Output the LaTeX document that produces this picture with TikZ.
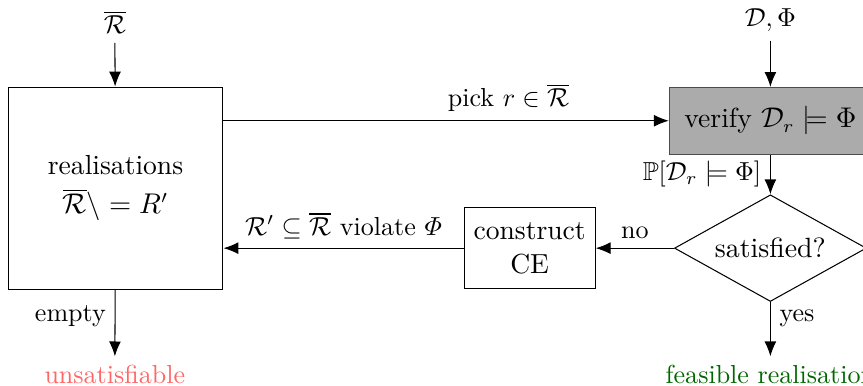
\documentclass[tikz,border=0pt]{standalone}
\usepackage{amsmath,amssymb}
\usepackage{xcolor}
\usepackage{tikz}
\usetikzlibrary{positioning,arrows.meta,shapes.geometric,calc}

\begin{document}
\begin{tikzpicture}[
		x=1cm,y=1cm,
		box/.style={draw,rectangle,align=center,inner sep=0pt,font=\fontsize{10.6pt}{12.8pt}\selectfont},
		verif/.style={box,fill=black!33,draw=black!70},
		decis/.style={draw,diamond,aspect=1.8,inner sep=0pt,minimum width=2.59cm,minimum height=1.44cm,font=\fontsize{10.7pt}{12.8pt}\selectfont},
		flow/.style={-{Latex[length=2mm,width=1.6mm]}}
		]
		\useasboundingbox (0,0) rectangle (11.65,-5.20);
		\node (rbar) at (1.55,-0.30) {$\overline{\mathcal{R}}$};
		\node (dphi) at (10.40,-0.27) {$\mathcal{D},\Phi$};
		\node[box,minimum width=2.90cm,minimum height=2.73cm] (real) at (1.56,-2.54) {realisations\\[2pt]$\overline{\mathcal{R}}\setminus= R'$};
		\node[verif,minimum width=2.73cm,minimum height=0.90cm] (verify) at (10.40,-1.63) {verify $\mathcal{D}_r\models\Phi$};
		\node[decis] (sat) at (10.40,-3.35) {satisfied?};
		\node[box,minimum width=1.77cm,minimum height=1.09cm] (ce) at (7.15,-3.35) {construct\\CE};
		\node[text=red!60] (unsat) at (1.55,-5.06) {unsatisfiable};
		\node[text=green!40!black] (feas) at (10.40,-5.06) {feasible realisation};

		\draw[flow] (rbar) -- (real);
		\draw[flow] (dphi) -- (verify);
		\draw[flow] (real.east |- verify.west) -- (verify.west) node[pos=0.64,above]{pick $r\in\overline{\mathcal{R}}$};
		\draw[flow] (verify) -- (sat) node[midway,left]{$\mathbb{P}[\mathcal{D}_r\models\Phi]$};
		\draw[flow] (sat) -- (ce) node[midway,above]{no};
		\draw[flow] (ce.west) -- (ce.west -| real.east) node[midway,above]{$\mathcal{R}'\subseteq\overline{\mathcal{R}}$ violate $\varPhi$};
		\draw[flow] (sat) -- (feas) node[pos=0.3,right]{yes};
		\draw[flow] (real) -- (unsat) node[pos=0.4,left]{empty};
	\end{tikzpicture}
\end{document}
